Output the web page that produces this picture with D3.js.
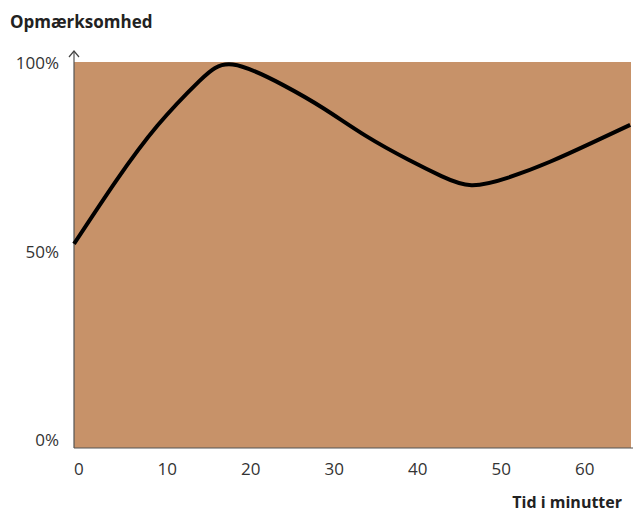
<!DOCTYPE html>
<html>
<head>
<meta charset="utf-8">
<script src="https://cdn.jsdelivr.net/npm/d3@7"></script>
<style>
  html, body { margin: 0; padding: 0; background: #fff; }
  svg text { font-family: "Open Sans", sans-serif; }
</style>
</head>
<body>
<svg id="chart" width="633" height="514"></svg>
<script>
  // values
  var minutes   = [0, 5, 10, 15, 19, 25, 30, 35, 40, 44, 47.6, 52, 57, 62, 66.6];
  var attention = [52, 68.6, 83.4, 95.2, 99.6, 94.2, 87.8, 80.6, 74.4, 70, 67.6, 69.6, 73.8, 78.8, 83.6];
  var xTicks = [0, 10, 20, 30, 40, 50, 60];
  var yTicks = [0, 50, 100];
  var yTitle = "Opmærksomhed";
  var xTitle = "Tid i minutter";

  var svg = d3.select("#chart");
  // plot box (note: "top" is taken by window.top, so use a prefix)
  var pl = 74, pr = 631, pt = 62, pb = 448;

  var x = d3.scaleLinear().domain([0, 66.7]).range([pl, pr]);
  var y = d3.scaleLinear().domain([0, 100]).range([440, 63]);

  // plot background
  svg.append("rect")
    .attr("x", pl).attr("y", pt)
    .attr("width", pr - pl).attr("height", pb - pt)
    .attr("fill", "#c79269");

  // axes lines
  svg.append("line")
    .attr("x1", pl).attr("x2", pl).attr("y1", 51).attr("y2", pb)
    .attr("stroke", "#555").attr("stroke-width", 1.2);
  svg.append("path")
    .attr("d", "M" + (pl - 5) + ",57L" + pl + ",51L" + (pl + 5) + ",57")
    .attr("fill", "none").attr("stroke", "#444").attr("stroke-width", 1.2);
  svg.append("line")
    .attr("x1", pl).attr("x2", pr + 2).attr("y1", pb).attr("y2", pb)
    .attr("stroke", "#555").attr("stroke-width", 1.2);

  // tick labels
  svg.selectAll("text.ytick").data(yTicks).enter().append("text")
    .attr("class", "ytick")
    .attr("x", 59).attr("y", function(d) { return y(d); })
    .attr("dy", "0.36em")
    .attr("text-anchor", "end")
    .attr("font-size", 17).attr("fill", "#333")
    .text(function(d) { return d + "%"; });

  svg.selectAll("text.xtick").data(xTicks).enter().append("text")
    .attr("class", "xtick")
    .attr("x", function(d) { return x(d); }).attr("y", 469)
    .attr("dy", "0.36em")
    .attr("text-anchor", "start")
    .attr("font-size", 17).attr("fill", "#333")
    .text(function(d) { return d; });

  // titles
  svg.append("text")
    .attr("x", 10).attr("y", 28)
    .attr("font-size", 17).attr("font-weight", "bold").attr("fill", "#222")
    .text(yTitle);
  svg.append("text")
    .attr("x", 622).attr("y", 508)
    .attr("text-anchor", "end")
    .attr("font-size", 16).attr("font-weight", "bold").attr("fill", "#222")
    .text(xTitle);

  // attention curve
  var line = d3.line()
    .x(function(d, i) { return x(minutes[i]); })
    .y(function(d) { return y(d); })
    .curve(d3.curveNatural);

  svg.append("path")
    .datum(attention)
    .attr("d", line)
    .attr("fill", "none")
    .attr("stroke", "#000")
    .attr("stroke-width", 4);
</script>
</body>
</html>
